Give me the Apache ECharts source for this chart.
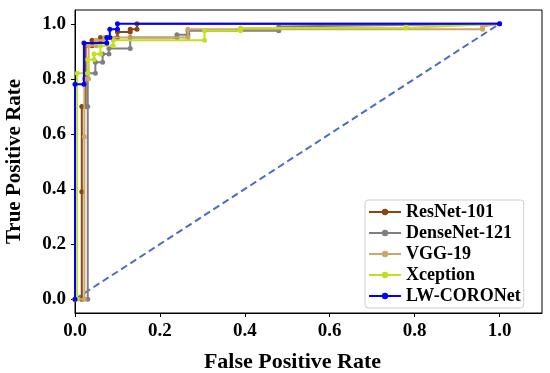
<!DOCTYPE html>
<html>
<head>
<meta charset="utf-8">
<script src="https://cdn.jsdelivr.net/npm/echarts@6/dist/echarts.min.js"></script>
<style>html,body{margin:0;padding:0;background:#fff;}#c{width:550px;height:373px;}</style>
</head>
<body>
<div id="c"></div>
<script>
const seriesNames = ['ResNet-101', 'DenseNet-121', 'VGG-19', 'Xception', 'LW-CORONet'];
const tickValues = [0, 0.2, 0.4, 0.6, 0.8, 1.0];

const resnetFpr = [0, 0.016, 0.016, 0.016, 0.025, 0.025, 0.04, 0.04, 0.06, 0.06, 0.1, 0.1, 0.13, 0.13, 0.146, 0.146, 1.0];
const resnetTpr = [0, 0, 0.39, 0.70, 0.70, 0.92, 0.92, 0.94, 0.94, 0.95, 0.95, 0.97, 0.97, 0.98, 0.98, 1.0, 1.0];

const densenetFpr = [0, 0.03, 0.03, 0.03, 0.048, 0.048, 0.065, 0.065, 0.08, 0.08, 0.13, 0.13, 0.24, 0.24, 0.266, 0.266, 0.48, 0.48, 1.0];
const densenetTpr = [0, 0, 0.70, 0.82, 0.82, 0.86, 0.86, 0.89, 0.89, 0.91, 0.91, 0.95, 0.95, 0.96, 0.96, 0.975, 0.975, 0.99, 1.0];

const vggFpr = [0, 0.022, 0.022, 0.022, 0.032, 0.032, 0.05, 0.05, 0.07, 0.07, 0.266, 0.266, 0.96, 0.96, 1.0];
const vggTpr = [0, 0, 0.59, 0.80, 0.80, 0.92, 0.92, 0.94, 0.94, 0.95, 0.95, 0.98, 0.98, 0.99, 1.0];

const xceptionFpr = [0, 0.005, 0.005, 0.03, 0.03, 0.045, 0.045, 0.06, 0.06, 0.09, 0.09, 0.305, 0.305, 0.39, 0.39, 0.78, 0.78, 1.0];
const xceptionTpr = [0, 0, 0.82, 0.82, 0.87, 0.87, 0.89, 0.89, 0.92, 0.92, 0.94, 0.94, 0.975, 0.975, 0.985, 0.985, 0.99, 1.0];

const lwFpr = [0, 0, 0.021, 0.021, 0.075, 0.075, 0.082, 0.082, 0.1, 0.1, 1.0];
const lwTpr = [0, 0.78, 0.78, 0.93, 0.93, 0.95, 0.95, 0.98, 0.98, 1.0, 1.0];

const chanceFpr = [0, 1];
const chanceTpr = [0, 1];

const colors = ['#8b4513', '#7f7f7f', '#cfa56a', '#c0e020', '#0000ff'];
const fprs = [resnetFpr, densenetFpr, vggFpr, xceptionFpr, lwFpr];
const tprs = [resnetTpr, densenetTpr, vggTpr, xceptionTpr, lwTpr];

const zip = (a, b) => a.map((v, i) => [v, b[i]]);
const font = '"Liberation Serif", "Times New Roman", serif';

const series = [{
  name: 'chance', type: 'line', data: zip(chanceFpr, chanceTpr), showSymbol: false, silent: true,
  lineStyle: { color: '#4a6cc4', width: 2, type: [7, 4] }, z: 1
}];
seriesNames.forEach((n, i) => {
  series.push({
    name: n, type: 'line', data: zip(fprs[i], tprs[i]),
    symbol: 'circle', symbolSize: 5, showSymbol: true,
    itemStyle: { color: colors[i] },
    lineStyle: { color: colors[i], width: 2 },
    z: 2 + i
  });
});

const chart = echarts.init(document.getElementById('c'), null, { renderer: 'canvas' });
chart.setOption({
  animation: false,
  backgroundColor: '#fff',
  grid: { left: 75, right: 8, top: 10, bottom: 60, show: true, borderColor: '#000', borderWidth: 1, containLabel: false, outerBoundsMode: 'none' },
  legend: {
    data: seriesNames, orient: 'vertical', left: 365, top: 200,
    itemWidth: 32, itemHeight: 8, itemGap: 3,
    padding: [3, 3, 3, 3],
    backgroundColor: '#fff', borderColor: '#d0d0d0', borderWidth: 1, borderRadius: 3,
    textStyle: { fontFamily: font, fontWeight: 'bold', fontSize: 18, color: '#000' }
  },
  xAxis: {
    type: 'value', min: 0, max: 1.1,
    name: 'False Positive Rate', nameLocation: 'middle', nameGap: 38,
    nameTextStyle: { fontFamily: font, fontWeight: 'bold', fontSize: 22, color: '#000', padding: [0, 32, 0, 0] },
    axisLine: { show: true, onZero: false, lineStyle: { color: '#000', width: 1 } },
    axisTick: { show: true, inside: false, length: 4, customValues: tickValues, lineStyle: { color: '#000' } },
    axisLabel: { customValues: tickValues, margin: 9, fontFamily: font, fontWeight: 'bold', fontSize: 19, color: '#000', formatter: v => v.toFixed(1) },
    splitLine: { show: false }
  },
  yAxis: {
    type: 'value', min: -0.05, max: 1.05,
    name: 'True Positive Rate', nameLocation: 'middle', nameGap: 50,
    nameTextStyle: { fontFamily: font, fontWeight: 'bold', fontSize: 21, color: '#000' },
    axisLine: { show: true, onZero: false, lineStyle: { color: '#000', width: 1 } },
    axisTick: { show: true, inside: false, length: 4, customValues: tickValues, lineStyle: { color: '#000' } },
    axisLabel: { customValues: tickValues, margin: 9, fontFamily: font, fontWeight: 'bold', fontSize: 19, color: '#000', formatter: v => v.toFixed(1) },
    splitLine: { show: false }
  },
  series: series
});
</script>
</body>
</html>
